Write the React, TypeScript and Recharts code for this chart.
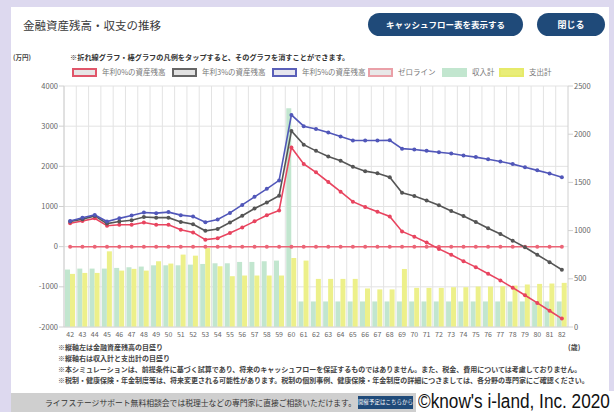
import React from "react";
import {
  Bar,
  CartesianGrid,
  ComposedChart,
  Line,
  XAxis,
  YAxis,
} from "recharts";

// 年齢（横軸）
const ages = [
  42, 43, 44, 45, 46, 47, 48, 49, 50, 51, 52, 53, 54, 55, 56, 57, 58, 59, 60, 61, 62,
  63, 64, 65, 66, 67, 68, 69, 70, 71, 72, 73, 74, 75, 76, 77, 78, 79, 80, 81, 82,
];

// 金融資産残高（万円, 左軸）
const rate0Balance = [
  585, 640, 705, 520, 545, 545, 600, 545, 545, 420, 355, 175, 210, 340, 480, 630, 780,
  900, 2470, 2060, 1850, 1610, 1370, 1120, 990, 870, 750, 380, 250, 105, -55, -200,
  -360, -510, -675, -840, -1020, -1210, -1400, -1595, -1790,
];
const rate3Balance = [
  625, 683, 765, 575, 625, 658, 740, 723, 723, 617, 560, 395, 440, 600, 770, 950, 1100,
  1270, 2880, 2540, 2385, 2245, 2140, 1990, 1880, 1830, 1730, 1340, 1260, 1150, 1030,
  890, 765, 615, 460, 315, 150, -15, -200, -385, -575,
];
const rate5Balance = [
  640, 720, 790, 625, 705, 775, 850, 835, 860, 785, 750, 610, 675, 840, 1040, 1240,
  1440, 1650, 3280, 3000, 2930, 2840, 2740, 2645, 2645, 2645, 2650, 2440, 2420, 2385,
  2350, 2320, 2270, 2230, 2175, 2120, 2055, 1975, 1900, 1820, 1730,
];
const zeroLine = [
  0, 0, 0, 0, 0, 0, 0, 0, 0, 0, 0, 0, 0, 0, 0, 0, 0, 0, 0, 0, 0, 0, 0, 0, 0, 0, 0, 0, 0,
  0, 0, 0, 0, 0, 0, 0, 0, 0, 0, 0, 0,
];

// 収入計・支出計（万円, 右軸）
const incomeTotal = [
  596, 606, 606, 606, 613, 620, 627, 640, 640, 640, 647, 654, 661, 661, 675, 675, 682,
  689, 2270, 265, 265, 265, 265, 265, 265, 265, 265, 265, 265, 265, 265, 265, 265, 265,
  265, 265, 265, 265, 265, 265, 265,
];
const expenseTotal = [
  551, 561, 561, 785, 585, 603, 585, 682, 658, 751, 740, 819, 630, 527, 534, 534, 534,
  534, 716, 689, 499, 499, 499, 499, 400, 390, 390, 602, 406, 406, 406, 413, 413, 420,
  420, 423, 430, 441, 447, 451, 458,
];

const leftTicks = [-2000, -1000, 0, 1000, 2000, 3000, 4000];
const rightTicks = [0, 500, 1000, 1500, 2000, 2500];

const legendLabels = [
  "年利0%の資産残高",
  "年利3%の資産残高",
  "年利5%の資産残高",
  "ゼロライン",
  "収入計",
  "支出計",
];

const notes = [
  "※縦軸左は金融資産残高の目盛り",
  "※縦軸右は収入計と支出計の目盛り",
  "※本シミュレーションは、前提条件に基づく試算であり、将来のキャッシュフローを保証するものではありません。また、税金、費用については考慮しておりません。",
  "※税制・健康保険・年金制度等は、将来変更される可能性があります。税制の個別事例、健康保険・年金制度の詳細につきましては、各分野の専門家にご確認ください。",
];

const data = ages.map((age, i) => ({
  age,
  r0: rate0Balance[i],
  r3: rate3Balance[i],
  r5: rate5Balance[i],
  zero: zeroLine[i],
  income: incomeTotal[i],
  expense: expenseTotal[i],
}));

const JP = '"Noto Sans CJK JP", "Noto Sans", sans-serif';
const RED = "#e8445f";
const GRAY = "#555555";
const BLUE = "#5157b9";
const ZERO = "#ec6577";
const GREEN = "#c2e6cf";
const YELLOW = "#edf08a";

const legendStyles = [
  { border: "#e0566a", fill: "#e6e6e6" },
  { border: "#666666", fill: "#e2e2e2" },
  { border: "#5a5fb8", fill: "#e6e6ee" },
  { border: "#eaa0a8", fill: "#e8e8e8" },
  { border: GREEN, fill: GREEN },
  { border: "#e6ea6a", fill: "#e9ed78" },
];
const legendX = [72, 172, 272, 368, 442, 499];

const abs = (s: React.CSSProperties): React.CSSProperties => ({
  position: "absolute",
  ...s,
});

const App = () => {
  return (
    <div
      style={abs({
        left: 0,
        top: 0,
        width: 614,
        height: 412,
        background: "#ddd9ef",
        overflow: "hidden",
        fontFamily: JP,
      })}
    >
      <div style={abs({ left: 11, top: 7, width: 598, height: 386, background: "#fff" })} />

      <div style={abs({ left: 23, top: 16, fontSize: 11.5, color: "#3a3a3a", lineHeight: "18px" })}>
        金融資産残高・収支の推移
      </div>

      <div
        style={abs({
          left: 368,
          top: 13,
          width: 155,
          height: 23,
          borderRadius: 12,
          background: "#1f4a79",
          color: "#fff",
          fontSize: 8.5,
          fontWeight: 700,
          lineHeight: "23px",
          textAlign: "center",
        })}
      >
        キャッシュフロー表を表示する
      </div>
      <div
        style={abs({
          left: 537,
          top: 13,
          width: 68,
          height: 23,
          borderRadius: 12,
          background: "#1f4a79",
          color: "#fff",
          fontSize: 9,
          fontWeight: 700,
          lineHeight: "23px",
          textAlign: "center",
        })}
      >
        閉じる
      </div>

      <div style={abs({ left: 13, top: 52, fontSize: 6.5, fontWeight: 700, color: "#444" })}>(万円)</div>
      <div style={abs({ left: 70, top: 52, fontSize: 7.2, fontWeight: 700, color: "#333", whiteSpace: "nowrap" })}>
        ※折れ線グラフ・棒グラフの凡例をタップすると、そのグラフを消すことができます。
      </div>

      {legendLabels.map((label, i) => (
        <React.Fragment key={label}>
          <div
            style={abs({
              left: legendX[i],
              top: 68,
              width: 25,
              height: 9,
              boxSizing: "border-box",
              border: `2px solid ${legendStyles[i].border}`,
              background: legendStyles[i].fill,
            })}
          />
          <div
            style={abs({
              left: legendX[i] + 30,
              top: 66,
              fontSize: 7.5,
              color: "#777",
              whiteSpace: "nowrap",
              lineHeight: "12px",
            })}
          >
            {label}
          </div>
        </React.Fragment>
      ))}

      <div style={abs({ left: 0, top: 0 })}>
        <ComposedChart
          width={614}
          height={412}
          data={data}
          margin={{ top: 86, right: 6, bottom: 71, left: 14 }}
          barGap={0}
          barSize={5}
        >
          <CartesianGrid
            yAxisId="left"
            stroke="#e3e3e3"
            verticalCoordinatesGenerator={({ offset }: any) =>
              ages.map((_, i) => offset.left + (i * offset.width) / ages.length)
            }
          />
          <XAxis
            dataKey="age"
            interval={0}
            tickSize={0}
            tickMargin={5}
            height={14}
            axisLine={{ stroke: "#d8d8d8" }}
            tick={{ fill: "#666", fontSize: 7, fontFamily: JP }}
          />
          <YAxis
            yAxisId="left"
            width={50}
            domain={[-2000, 4000]}
            ticks={leftTicks}
            tickSize={5}
            tickMargin={1}
            axisLine={{ stroke: "#d0d0d0" }}
            tickLine={{ stroke: "#d0d0d0" }}
            tick={{ fill: "#666", fontSize: 7.5, fontFamily: JP }}
          />
          <YAxis
            yAxisId="right"
            orientation="right"
            width={40}
            domain={[0, 2500]}
            ticks={rightTicks}
            tickSize={5}
            tickMargin={1}
            axisLine={{ stroke: "#d0d0d0" }}
            tickLine={{ stroke: "#d0d0d0" }}
            tick={{ fill: "#666", fontSize: 7.5, fontFamily: JP }}
          />
          <Bar yAxisId="right" dataKey="income" fill={GREEN} isAnimationActive={false} />
          <Bar yAxisId="right" dataKey="expense" fill={YELLOW} isAnimationActive={false} />
          <Line
            yAxisId="left"
            dataKey="zero"
            stroke={ZERO}
            strokeWidth={1.5}
            dot={{ r: 2, fill: ZERO, stroke: ZERO, strokeWidth: 0 }}
            isAnimationActive={false}
          />
          <Line
            yAxisId="left"
            dataKey="r0"
            stroke={RED}
            strokeWidth={1.6}
            dot={{ r: 2, fill: RED, stroke: RED, strokeWidth: 0 }}
            isAnimationActive={false}
          />
          <Line
            yAxisId="left"
            dataKey="r3"
            stroke={GRAY}
            strokeWidth={1.6}
            dot={{ r: 2, fill: GRAY, stroke: GRAY, strokeWidth: 0 }}
            isAnimationActive={false}
          />
          <Line
            yAxisId="left"
            dataKey="r5"
            stroke={BLUE}
            strokeWidth={1.6}
            dot={{ r: 2, fill: BLUE, stroke: BLUE, strokeWidth: 0 }}
            isAnimationActive={false}
          />
        </ComposedChart>
      </div>

      <div style={abs({ left: 568, top: 342, fontSize: 7, fontWeight: 700, color: "#444" })}>(歳)</div>
      {notes.map((note, i) => (
        <div
          key={note}
          style={abs({
            left: 58,
            top: 342 + i * 11,
            fontSize: 7,
            fontWeight: 700,
            color: "#444",
            whiteSpace: "nowrap",
            lineHeight: "10px",
          })}
        >
          {note}
        </div>
      ))}

      <div style={abs({ left: 11, top: 393, width: 603, height: 19, background: "#cfcfcf" })} />
      <div style={abs({ left: 45, top: 397, fontSize: 7.8, color: "#333", whiteSpace: "nowrap", lineHeight: "11px" })}>
        ライフステージサポート無料相談会では税理士などの専門家に直接ご相談いただけます。
      </div>
      <div
        style={abs({
          left: 358,
          top: 396,
          width: 55,
          height: 13,
          background: "#1f4a79",
          color: "#fff",
          fontSize: 5.5,
          lineHeight: "13px",
          textAlign: "center",
          whiteSpace: "nowrap",
        })}
      >
        開催予定はこちらから
      </div>
      <div style={abs({ left: 416, top: 391, width: 198, height: 21, background: "#fff" })} />
      <div
        style={abs({
          left: 418,
          top: 390,
          color: "#111",
          fontFamily: '"Liberation Sans", "DejaVu Sans", sans-serif',
          fontSize: 20,
          lineHeight: "22px",
          whiteSpace: "nowrap",
          transform: "scaleX(0.86)",
          transformOrigin: "left center",
        })}
      >
        ©know's i-land, Inc. 2020
      </div>
    </div>
  );
};

export default App;
